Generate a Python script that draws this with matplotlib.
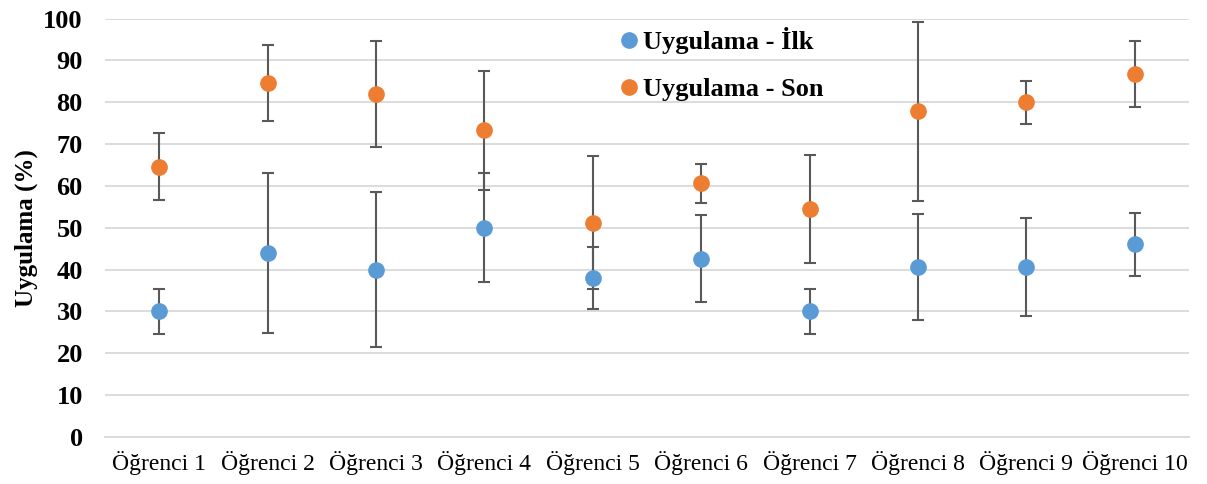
import numpy as np
import matplotlib
matplotlib.use("Agg")
import matplotlib.pyplot as plt

# Values
students = ["Öğrenci 1", "Öğrenci 2", "Öğrenci 3", "Öğrenci 4", "Öğrenci 5",
            "Öğrenci 6", "Öğrenci 7", "Öğrenci 8", "Öğrenci 9", "Öğrenci 10"]
ilk = [30.0, 44.0, 40.0, 50.0, 38.0, 42.6, 30.0, 40.6, 40.6, 46.0]
ilk_err = [5.4, 19.1, 18.6, 13.1, 7.4, 10.4, 5.4, 12.7, 11.7, 7.6]
son = [64.6, 84.6, 81.9, 73.3, 51.2, 60.6, 54.5, 77.9, 80.0, 86.7]
son_err = [8.0, 9.0, 12.7, 14.3, 15.9, 4.6, 13.0, 21.4, 5.2, 7.9]

plt.rcParams['font.family'] = ['Liberation Serif', 'DejaVu Serif']

fig = plt.figure(figsize=(12.07, 4.84), dpi=100)
ax = fig.add_axes([0.087, 0.0977, 0.898, 0.8637])

x = np.arange(1, len(students) + 1)
err_color = "#595959"

ax.errorbar(x, ilk, yerr=ilk_err, fmt="none", ecolor=err_color, elinewidth=1.5,
            capsize=4.3, capthick=1.5, zorder=2)
ax.errorbar(x, son, yerr=son_err, fmt="none", ecolor=err_color, elinewidth=1.5,
            capsize=4.3, capthick=1.5, zorder=2)
ax.plot(x, ilk, "o", color="#5B9BD5", markersize=11, label="Uygulama - İlk", zorder=3)
ax.plot(x, son, "o", color="#ED7D31", markersize=11, label="Uygulama - Son", zorder=3)

ax.set_xlim(0.5, 10.5)
ax.set_ylim(0, 100)
ax.set_yticks(range(0, 101, 10))
ax.set_xticks(x)
ax.set_xticklabels(students, fontsize=17)
for lab in ax.get_yticklabels():
    lab.set_fontweight("bold")
    lab.set_fontsize(19)
ax.tick_params(axis="both", length=0)
ax.tick_params(axis="y", pad=16)
ax.tick_params(axis="x", pad=10)

ax.grid(axis="y", color="#D9D9D9", linewidth=1.3)
ax.set_axisbelow(True)
for s in ["top", "right", "left"]:
    ax.spines[s].set_visible(False)
ax.spines["bottom"].set_color("#D9D9D9")
ax.spines["bottom"].set_linewidth(1.3)

ax.set_ylabel("Uygulama (%)", fontsize=18, fontweight="bold", labelpad=4)

ax.legend(loc="upper left", bbox_to_anchor=(0.474, 0.98), frameon=False,
          prop={"size": 19, "weight": "bold"}, handletextpad=0.1,
          labelspacing=0.9, markerscale=1.0, handlelength=0.8,
          borderaxespad=0.0, borderpad=0.0)

fig.savefig("out.png", dpi=100)
